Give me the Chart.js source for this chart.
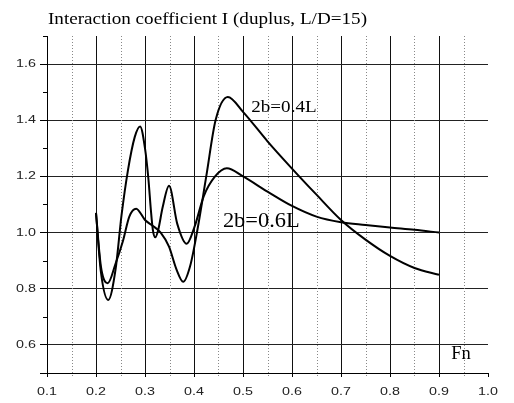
<!DOCTYPE html>
<html>
<head>
<meta charset="utf-8">
<script src="https://cdn.jsdelivr.net/npm/chart.js@4"></script>
<style>
  body { margin: 0; background: #fff; }
  canvas { display: block; }
</style>
</head>
<body>
<canvas id="chart" width="514" height="403"></canvas>
<script>
// DATA
const fn04 = [0.200, 0.210, 0.224, 0.240, 0.255, 0.268, 0.282, 0.300, 0.315, 0.332, 0.349, 0.364, 0.378, 0.392, 0.407, 0.425, 0.444, 0.469, 0.500, 0.550, 0.600, 0.650, 0.700, 0.750, 0.800, 0.850, 0.900];
const coef04 = [1.07, 0.88, 0.82, 0.89, 0.97, 1.057, 1.085, 1.045, 1.025, 1.00, 0.95, 0.87, 0.825, 0.88, 1.01, 1.20, 1.40, 1.483, 1.43, 1.325, 1.228, 1.135, 1.045, 0.975, 0.917, 0.874, 0.85];

const fn06 = [0.200, 0.210, 0.225, 0.240, 0.252, 0.265, 0.279, 0.290, 0.300, 0.307, 0.312, 0.316, 0.321, 0.327, 0.336, 0.349, 0.366, 0.385, 0.401, 0.420, 0.443, 0.467, 0.500, 0.550, 0.600, 0.650, 0.700, 0.750, 0.800, 0.850, 0.900];
const coef06 = [1.07, 0.86, 0.76, 0.87, 1.06, 1.22, 1.34, 1.378, 1.30, 1.19, 1.08, 1.01, 0.983, 1.01, 1.09, 1.167, 1.03, 0.96, 1.02, 1.13, 1.20, 1.229, 1.20, 1.146, 1.095, 1.057, 1.037, 1.027, 1.018, 1.010, 1.000];

const seriesLabels = ["2b=0.4L", "2b=0.6L"];
const titleText = "Interaction coefficient I (duplus, L/D=15)";
const xAxisLabel = "Fn";

const xTickValues = [0.1, 0.15, 0.2, 0.25, 0.3, 0.35, 0.4, 0.45, 0.5, 0.55, 0.6, 0.65, 0.7, 0.75, 0.8, 0.85, 0.9, 0.95, 1.0];
const xTickLabels = ["0.1", "0.2", "0.3", "0.4", "0.5", "0.6", "0.7", "0.8", "0.9", "1.0"];
const yTickValues = [0.5, 0.6, 0.7, 0.8, 0.9, 1.0, 1.1, 1.2, 1.3, 1.4, 1.5, 1.6, 1.7];
const yTickLabels = ["0.6", "0.8", "1.0", "1.2", "1.4", "1.6"];

const toPoints = (xs, ys) => xs.map((x, i) => ({ x: x, y: ys[i] }));
const clear = "rgba(0,0,0,0)";

// text is horizontally stretched in the original
function stretchText(ctx, text, x, y, sx, align) {
  ctx.save();
  ctx.direction = "ltr";
  ctx.textAlign = align;
  ctx.setTransform(sx, 0, 0, 1, x, y);
  ctx.fillText(text, 0, 0);
  ctx.restore();
}

const decorations = {
  id: "decorations",
  beforeDatasetsDraw(chart) {
    const ctx = chart.ctx;
    const area = chart.chartArea;
    const xs = chart.scales.x;
    const ys = chart.scales.y;

    // dotted minor verticals
    ctx.save();
    ctx.strokeStyle = "#888";
    ctx.lineWidth = 1;
    ctx.setLineDash([1, 2]);
    xTickValues.forEach(v => {
      if (Math.round(v * 20) % 2 === 0) return;
      const px = Math.round(xs.getPixelForValue(v)) + 0.5;
      ctx.beginPath();
      ctx.moveTo(px, area.top);
      ctx.lineTo(px, area.bottom + 4);
      ctx.stroke();
    });
    ctx.restore();

    // short minor ticks on the y axis
    ctx.save();
    ctx.strokeStyle = "#000";
    ctx.lineWidth = 1;
    yTickValues.forEach(v => {
      const k = Math.round(v * 10);
      if (k % 2 === 0 || k === 5) return;
      const py = Math.round(ys.getPixelForValue(v)) + 0.5;
      ctx.beginPath();
      ctx.moveTo(area.left - 4, py);
      ctx.lineTo(area.left, py);
      ctx.stroke();
    });
    ctx.restore();
  },
  afterDraw(chart) {
    const ctx = chart.ctx;
    const area = chart.chartArea;
    const xs = chart.scales.x;
    const ys = chart.scales.y;

    ctx.save();
    ctx.fillStyle = "#222";
    ctx.font = "11px 'Liberation Sans', Arial, sans-serif";
    ctx.textBaseline = "middle";
    yTickLabels.forEach(t => {
      stretchText(ctx, t, area.left - 11, ys.getPixelForValue(parseFloat(t)), 1.3, "right");
    });
    xTickLabels.forEach(t => {
      stretchText(ctx, t, xs.getPixelForValue(parseFloat(t)), area.bottom + 19, 1.3, "center");
    });
    ctx.restore();

    ctx.save();
    ctx.fillStyle = "#000";
    ctx.textBaseline = "alphabetic";
    ctx.font = "17.5px 'Liberation Serif', 'Times New Roman', serif";
    const titleScale = 319 / ctx.measureText(titleText).width;
    stretchText(ctx, titleText, 48, 23.5, titleScale, "left");

    ctx.font = "17px 'Liberation Serif', 'Times New Roman', serif";
    stretchText(ctx, seriesLabels[0], xs.getPixelForValue(0.517), ys.getPixelForValue(1.43), 1.12, "left");
    ctx.font = "20px 'Liberation Serif', 'Times New Roman', serif";
    stretchText(ctx, seriesLabels[1], xs.getPixelForValue(0.459), ys.getPixelForValue(1.021), 1.12, "left");
    ctx.font = "18.5px 'Liberation Serif', 'Times New Roman', serif";
    stretchText(ctx, xAxisLabel, xs.getPixelForValue(0.925), ys.getPixelForValue(0.551), 1.0, "left");
    ctx.restore();
  }
};

const lineStyle = {
  borderColor: "#000",
  borderWidth: 2,
  pointRadius: 0,
  fill: false,
  cubicInterpolationMode: "monotone"
};

new Chart(document.getElementById("chart"), {
  type: "line",
  data: {
    datasets: [
      Object.assign({ label: seriesLabels[0], data: toPoints(fn04, coef04) }, lineStyle),
      Object.assign({ label: seriesLabels[1], data: toPoints(fn06, coef06) }, lineStyle)
    ]
  },
  options: {
    responsive: false,
    animation: false,
    devicePixelRatio: 1,
    layout: { padding: { top: 36, right: 26, left: 0, bottom: 0 } },
    plugins: {
      legend: { display: false },
      tooltip: { enabled: false },
      title: { display: false }
    },
    scales: {
      x: {
        type: "linear",
        min: 0.1,
        max: 1.0,
        afterBuildTicks: s => { s.ticks = xTickValues.map(v => ({ value: v })); },
        afterFit: s => { s.height = 30; },
        ticks: { display: false },
        grid: {
          color: c => {
            const k = Math.round(c.tick.value * 20);
            return (k % 2 === 0 && k >= 4 && k <= 18) ? "#111" : clear;
          },
          tickColor: c => (Math.round(c.tick.value * 20) % 2 === 0 ? "#000" : clear),
          tickLength: 4,
          lineWidth: 1
        },
        border: { color: "#000", width: 1 }
      },
      y: {
        type: "linear",
        min: 0.5,
        max: 1.7,
        afterBuildTicks: s => { s.ticks = yTickValues.map(v => ({ value: v })); },
        afterFit: s => { s.width = 47; },
        ticks: { display: false },
        grid: {
          color: c => {
            const k = Math.round(c.tick.value * 10);
            return (k % 2 === 0 && k >= 6 && k <= 16) ? "#222" : clear;
          },
          tickColor: c => {
            const k = Math.round(c.tick.value * 10);
            return (k % 2 === 0 || k === 5) ? "#000" : clear;
          },
          tickLength: 7,
          lineWidth: 1
        },
        border: { color: "#000", width: 1 }
      }
    }
  },
  plugins: [decorations]
});
</script>
</body>
</html>
